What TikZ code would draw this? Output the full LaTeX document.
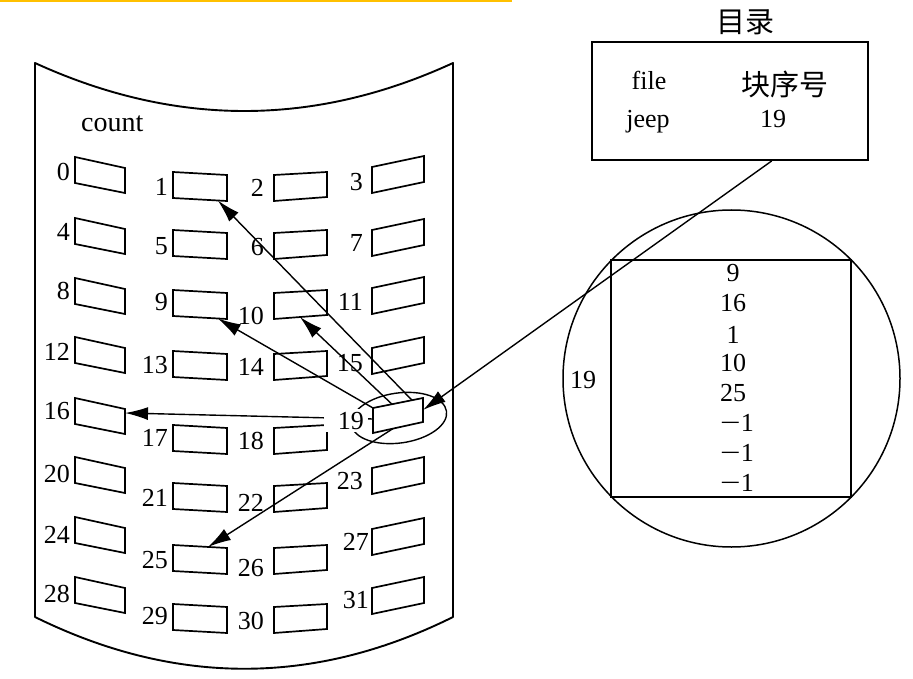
\documentclass[tikz,border=0pt]{standalone}
\usepackage{fontspec}
\setmainfont{Liberation Serif}
\newfontfamily\cjk{Noto Sans CJK SC}
\usetikzlibrary{arrows.meta,calc}
\definecolor{topbar}{RGB}{255,192,0}
\newcommand\blkq[7]{\draw[blk] (#2,#4) coordinate(#1-tl) -- (#3,#5) coordinate(#1-tr) -- (#3,#6) coordinate(#1-br) -- (#2,#7) coordinate(#1-bl) -- cycle;}
\newcommand\longminus{\scalebox{1.4}[1]{−}}
\begin{document}
\begin{tikzpicture}[x=1pt,y=-1pt,
  blk/.style={draw, line width=1.7pt, line join=miter},
  outline/.style={draw, line width=1.9pt},
  conn/.style={line width=1.4pt, -{Latex[length=23pt,width=13pt]}},
  lbl/.style={inner sep=0pt, anchor=east, font=\fontsize{26}{30}\selectfont},
  txt/.style={inner sep=0pt, font=\fontsize{26}{30}\selectfont},
  cjktxt/.style={inner sep=0pt, font=\cjk\fontsize{29}{32}\selectfont},
]
\useasboundingbox (0,0) rectangle (913,679);
\fill[white] (0,0) rectangle (913,679);
% top bar
\fill[topbar] (0,0) rectangle (512,2.5);
% drum outline
\draw[outline, line join=round] (35,63) .. controls (175,127) and (314,127) .. (453,63)
  -- (453,617) .. controls (314,686) and (175,686) .. (35,617) -- cycle;
\node[txt, anchor=base west, font=\fontsize{28}{32}\selectfont] (count) at (81,132) {count};
% blocks column 0
\foreach \n/\t in {0/157,4/218,8/278,12/337,16/398,20/457,24/517,28/577}
  {\blkq{b\n}{75}{125}{\t}{\t+11}{\t+36}{\t+26}}
% column 1
\foreach \n/\t in {1/172,5/230,9/290,13/351,17/425,21/483,25/545,29/604}
  {\blkq{b\n}{173}{227}{\t}{\t+3}{\t+29}{\t+26}}
% column 2
\foreach \n/\t in {2/172,6/230,10/290,14/351,18/425,22/483,26/545,30/604}
  {\blkq{b\n}{274}{327}{\t+3}{\t}{\t+25}{\t+29}}
% column 3
\foreach \n/\t in {3/156,7/219,11/277,15/337,23/457,27/518,31/577}
  {\blkq{b\n}{372}{424}{\t+11}{\t}{\t+26}{\t+37}}
\blkq{b19}{373}{423}{408}{398}{422}{433}
% labels
\foreach \n/\y in {0/172,4/232,8/291,12/352,16/411,20/474,24/535,28/594}
  {\node[lbl] (l\n) at (70,\y) {\n};}
\foreach \n/\y in {1/187,5/246,9/302,13/365,17/438,21/498,25/560,29/616}
  {\node[lbl] (l\n) at (168,\y) {\n};}
\foreach \n/\y in {2/188,6/247,10/316,14/367,18/441,22/503,26/568,30/621}
  {\node[lbl] (l\n) at (264,\y) {\n};}
\foreach \n/\x/\y in {3/363/182,7/363/243,11/363/302,15/363/363,23/363/481,27/369/542,31/369/600}
  {\node[lbl] (l\n) at (\x,\y) {\n};}
% arrow anchor points
\coordinate (s9) at (b19-tl);
\coordinate (s10) at ($(b19-tl)!0.38!(b19-tr)$);
\coordinate (s1) at ($(b19-tl)!0.78!(b19-tr)$);
\coordinate (s16) at ($(b19-tl)!0.44!(b19-bl)$);
\coordinate (s25) at ($(b19-bl)!0.4!(b19-br)$);
\coordinate (sdir) at ($(b19-tr)!0.5!(b19-br)$);
\coordinate (t1) at ($(b1-bl)!0.83!(b1-br)$);
\coordinate (t9) at ($(b9-bl)!0.83!(b9-br)$);
\coordinate (t10) at ($(b10-bl)!0.49!(b10-br)$);
\coordinate (t16) at ($(b16-tr)!0.16!(b16-br)$);
\coordinate (t25) at ($(b25-tl)!0.65!(b25-tr)$);
\draw[conn] (s1) -- (t1);
\draw[conn] (s9) -- (t9);
\draw[conn] (s10) -- (t10);
\draw[conn] (s16) -- (t16);
\draw[conn] (s25) -- (t25);
% ellipse around block 19
\draw[line width=1.4pt, rotate around={8:(399,418)}] (399,418) ellipse [x radius=48, y radius=25];
\fill[white] (324,409) rectangle (368,432);
\node[lbl] (l19) at (364,421) {19};
% directory
\node[cjktxt] (dirtitle) at (745,22) {目录};
\node[draw, line width=1.9pt, minimum width=276pt, minimum height=118pt, inner sep=0pt] (dir) at (730,101) {};
\node[txt, anchor=base] (file) at (649,90) {file};
\node[txt, anchor=base] (jeep) at (648,128) {jeep};
\node[cjktxt] (bno) at (785,84) {块序号};
\node[txt, anchor=base] (d19) at (773,128) {19};
% big circle with index block
\node[draw, circle, line width=1.5pt, minimum size=337pt, inner sep=0pt] (circ) at (731.5,378.5) {};
\node[draw, line width=1.9pt, minimum width=240pt, minimum height=237pt, inner sep=0pt] (sq) at (731,378.5) {};
\foreach \v/\x/\y [count=\i] in {9/733/273,16/733/303,1/733/335,10/733/363,25/733/393,\longminus1/737/423,\longminus1/737/453,\longminus1/737/483}
  {\node[txt] (e\i) at (\x,\y) {\v};}
\node[txt] (c19) at (583,380) {19};
% directory pointer
\coordinate (dstart) at ($(dir.south west)!0.65!(dir.south east)$);
\draw[conn] (dstart) -- (sdir);
\end{tikzpicture}
\end{document}
